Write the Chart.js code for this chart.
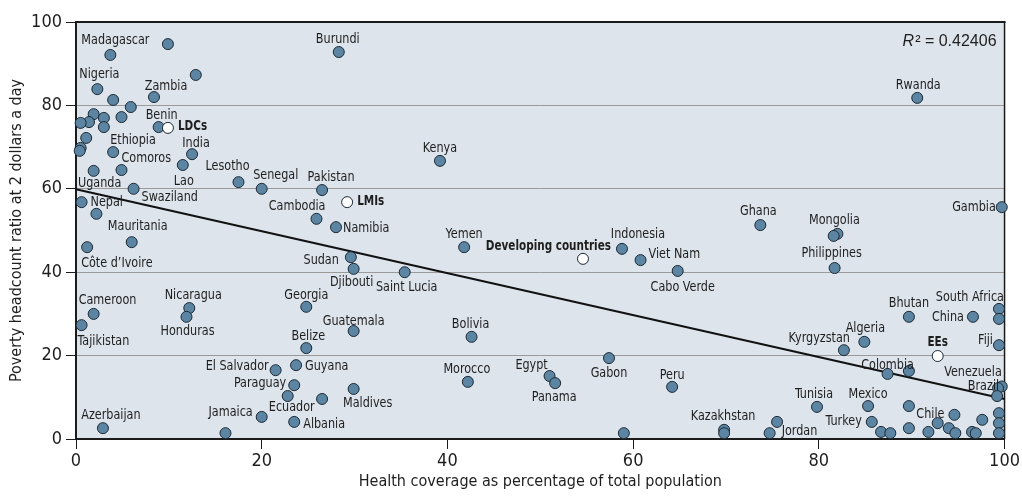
<!DOCTYPE html>
<html>
<head>
<meta charset="utf-8">
<script src="https://cdn.jsdelivr.net/npm/chart.js@4.4.0/dist/chart.umd.min.js"></script>
<style>
  html, body { margin: 0; padding: 0; background: #fff; }
</style>
</head>
<body>
<canvas id="graficoCobertura" width="1022" height="502"></canvas>
<script>
// datos
const paises = [
  'Madagascar', '', '', 'Nigeria', '', 'Zambia', '', '', '', '',
  '', '', '', 'Benin', '', '', '', 'Ethiopia', 'India', 'Comoros',
  'Uganda', 'Lao', 'Lesotho', 'Senegal', 'Swaziland', 'Pakistan', 'Nepal', '', 'Cambodia', 'Namibia',
  'Mauritania', 'Côte d’Ivoire', 'Burundi', 'Kenya', 'Yemen', 'Sudan', 'Djibouti', 'Saint Lucia', 'Cameroon', 'Tajikistan',
  'Nicaragua', 'Honduras', 'Georgia', 'Guatemala', 'Bolivia', 'Belize', 'El Salvador', 'Guyana', 'Paraguay', 'Ecuador',
  '', 'Maldives', 'Jamaica', 'Albania', 'Azerbaijan', '', 'Morocco', 'Egypt', 'Panama', 'Indonesia',
  'Viet Nam', 'Cabo Verde', 'Gabon', 'Peru', '', 'Kazakhstan', '', 'Ghana', '', 'Jordan',
  'Tunisia', 'Mexico', 'Turkey', 'Rwanda', 'Gambia', 'Mongolia', '', 'Philippines', 'Bhutan', 'China',
  'South Africa', '', 'Algeria', 'Kyrgyzstan', 'Fiji', 'Colombia', '', 'Venezuela', '', 'Brazil',
  '', '', '', '', '', '', 'Chile', '', '', '',
  '', '', '', '', ''
];
const cobertura = [
  3.7, 9.9, 12.9, 2.3, 4.0, 8.4, 5.9, 1.9, 1.4, 0.5,
  3.0, 4.9, 3.0, 8.9, 1.1, 0.5, 0.4, 4.0, 12.5, 4.9,
  1.9, 11.5, 17.5, 20.0, 6.2, 26.5, 0.6, 2.2, 25.9, 28.0,
  6.0, 1.2, 28.3, 39.2, 41.8, 29.6, 29.9, 35.4, 1.9, 0.6,
  12.2, 11.9, 24.8, 29.9, 42.6, 24.8, 21.5, 23.7, 23.5, 22.8,
  26.5, 29.9, 20.0, 23.5, 2.9, 16.1, 42.2, 51.0, 51.6, 58.8,
  60.8, 64.8, 57.4, 64.2, 59.0, 69.8, 69.8, 73.7, 75.5, 74.7,
  79.8, 85.3, 85.7, 90.6, 99.7, 82.0, 81.6, 81.7, 89.7, 96.6,
  99.4, 99.4, 84.9, 82.7, 99.4, 87.4, 89.7, 99.7, 99.3, 99.2,
  86.7, 87.7, 89.7, 89.7, 91.8, 92.8, 94.6, 94.0, 94.7, 96.5,
  96.9, 97.6, 99.4, 99.4, 99.4
];
const pobreza = [
  92.1, 94.7, 87.3, 83.9, 81.3, 82.0, 79.6, 77.9, 76.0, 75.8,
  77.0, 77.2, 74.8, 74.8, 72.2, 69.8, 69.1, 68.8, 68.3, 64.5,
  64.3, 65.7, 61.6, 60.0, 60.0, 59.7, 56.8, 54.0, 52.8, 50.8,
  47.2, 46.0, 92.8, 66.7, 46.0, 43.6, 40.8, 40.0, 30.0, 27.3,
  31.4, 29.3, 31.7, 25.9, 24.5, 21.8, 16.5, 17.7, 12.9, 10.3,
  9.6, 12.0, 5.3, 4.1, 2.6, 1.4, 13.7, 15.1, 13.4, 45.6,
  42.9, 40.3, 19.4, 12.5, 1.4, 2.2, 1.4, 51.3, 4.1, 1.4,
  7.7, 7.9, 4.1, 81.8, 55.6, 49.2, 48.7, 41.0, 29.3, 29.3,
  31.2, 28.8, 23.3, 21.3, 22.5, 15.6, 16.3, 12.6, 12.2, 10.3,
  1.7, 1.4, 7.9, 2.6, 1.7, 3.8, 5.8, 2.6, 1.4, 1.7,
  1.4, 4.6, 6.2, 3.8, 1.4
];
const grupos = ['LDCs', 'LMIs', 'Developing countries', 'EEs'];
const grupoCobertura = [9.9, 29.2, 54.6, 92.8];
const grupoPobreza = [74.6, 56.8, 43.2, 19.9];
const tendenciaX = [0, 100];
const tendenciaY = [59.9, 9.6];
const ticksX = [0, 20, 40, 60, 80, 100];
const ticksY = [0, 20, 40, 60, 80, 100];
const textoR2 = '0.42406';

// posicion de etiquetas: [dx, dy, alineacion]
const posEtiqueta = {
  'Madagascar': [5, -15, 'center'], 'Nigeria': [2, -15, 'center'], 'Zambia': [12, -11, 'center'],
  'Benin': [3, -12, 'center'], 'Ethiopia': [-3, -12, 'left'], 'India': [4, -11, 'center'],
  'Comoros': [0, -12, 'left'], 'Uganda': [6, 12, 'center'], 'Lao': [1, 16, 'center'],
  'Lesotho': [-11, -16, 'center'], 'Senegal': [14, -14, 'center'], 'Swaziland': [8, 8, 'left'],
  'Pakistan': [9, -13, 'center'], 'Nepal': [9, 0, 'left'], 'Cambodia': [9, -13, 'right'],
  'Namibia': [7, 1, 'left'], 'Mauritania': [6, -16, 'center'], 'Côte d’Ivoire': [-6, 16, 'left'],
  'Burundi': [-1, -13, 'center'], 'Kenya': [0, -13, 'center'], 'Yemen': [0, -13, 'center'],
  'Sudan': [-12, 3, 'right'], 'Djibouti': [-2, 13, 'center'], 'Saint Lucia': [2, 15, 'center'],
  'Cameroon': [-15, -14, 'left'], 'Tajikistan': [-4, 16, 'left'], 'Nicaragua': [4, -13, 'center'],
  'Honduras': [1, 14, 'center'], 'Georgia': [0, -12, 'center'], 'Guatemala': [0, -10, 'center'],
  'Bolivia': [-1, -13, 'center'], 'Belize': [2, -12, 'center'], 'El Salvador': [-7, -4, 'right'],
  'Guyana': [9, 1, 'left'], 'Paraguay': [-8, -2, 'right'], 'Ecuador': [4, 11, 'center'],
  'Maldives': [14, 14, 'center'], 'Jamaica': [-9, -5, 'right'], 'Albania': [9, 2, 'left'],
  'Azerbaijan': [8, -13, 'center'], 'Morocco': [-1, -13, 'center'], 'Egypt': [-18, -11, 'center'],
  'Panama': [-1, 14, 'center'], 'Indonesia': [16, -15, 'center'], 'Viet Nam': [8, -6, 'left'],
  'Cabo Verde': [5, 16, 'center'], 'Gabon': [0, 15, 'center'], 'Peru': [0, -12, 'center'],
  'Kazakhstan': [-1, -14, 'center'], 'Ghana': [-2, -14, 'center'], 'Jordan': [12, -2, 'left'],
  'Tunisia': [-3, -13, 'center'], 'Mexico': [0, -12, 'center'], 'Turkey': [-10, -1, 'right'],
  'Rwanda': [1, -13, 'center'], 'Gambia': [-6, 0, 'right'], 'Mongolia': [-3, -14, 'center'],
  'Philippines': [-3, -15, 'center'], 'Bhutan': [0, -14, 'center'], 'South Africa': [5, -12, 'right'],
  'China': [-9, 0, 'right'], 'Algeria': [1, -14, 'center'], 'Kyrgyzstan': [6, -12, 'right'],
  'Fiji': [-6, -5, 'right'], 'Colombia': [0, -9, 'center'], 'Venezuela': [0, -14, 'right'],
  'Brazil': [2, -10, 'right'], 'Chile': [-10, -1, 'right'],
  'LDCs': [10, -2, 'left'], 'LMIs': [10, -1, 'left'], 'Developing countries': [28, -13, 'right'],
  'EEs': [0, -14, 'center']
};

const fuente = '"Liberation Sans Narrow", "Arial Narrow", "DejaVu Sans Condensed", sans-serif';
const colorTexto = '#1e1e1e';
const colorBorde = '#1b1b1b';

// el texto se estrecha un poco para parecerse a la letra condensada del original
function dibujarEtiqueta(ctx, nombre, x, y, negrita) {
  const p = posEtiqueta[nombre] || [0, -13, 'center'];
  ctx.font = (negrita ? 'bold ' : '') + '14.5px ' + fuente;
  ctx.textAlign = p[2];
  ctx.textBaseline = 'middle';
  ctx.save();
  ctx.translate(x + p[0], y + p[1]);
  ctx.scale(negrita ? 0.8 : 0.86, 1);
  ctx.fillText(nombre, 0, 0);
  ctx.restore();
}

const pluginEtiquetas = {
  id: 'etiquetas',
  beforeDraw(chart) {
    const a = chart.chartArea;
    const ctx = chart.ctx;
    ctx.save();
    ctx.fillStyle = '#dde4ec';
    ctx.fillRect(a.left, a.top, a.right - a.left, a.bottom - a.top);
    ctx.restore();
  },
  beforeDatasetsDraw(chart) {
    const a = chart.chartArea;
    const ctx = chart.ctx;
    ctx.save();
    ctx.strokeStyle = colorBorde;
    ctx.lineWidth = 2;
    ctx.beginPath();
    ctx.moveTo(a.left, a.top);
    ctx.lineTo(a.right + 1, a.top);
    ctx.stroke();
    ctx.lineWidth = 1.5;
    ctx.beginPath();
    ctx.moveTo(a.right, a.top);
    ctx.lineTo(a.right, a.bottom);
    ctx.stroke();
    ctx.restore();
  },
  afterDatasetsDraw(chart) {
    const ctx = chart.ctx;
    const a = chart.chartArea;
    ctx.save();
    ctx.fillStyle = colorTexto;
    chart.getDatasetMeta(1).data.forEach((pt, i) => {
      if (paises[i]) dibujarEtiqueta(ctx, paises[i], pt.x, pt.y, false);
    });
    chart.getDatasetMeta(2).data.forEach((pt, i) => {
      dibujarEtiqueta(ctx, grupos[i], pt.x, pt.y, true);
    });

    // R2
    ctx.textBaseline = 'alphabetic';
    ctx.textAlign = 'left';
    ctx.font = '16px "Liberation Sans", sans-serif';
    const resto = '² = ' + textoR2;
    const wResto = ctx.measureText(resto).width;
    ctx.font = 'italic 16px "Liberation Sans", sans-serif';
    const wR = ctx.measureText('R').width;
    const xIni = a.right - 9 - wResto - wR;
    ctx.fillText('R', xIni, a.top + 24);
    ctx.font = '16px "Liberation Sans", sans-serif';
    ctx.fillText(resto, xIni + wR + 1, a.top + 24);
    ctx.restore();
  }
};

const ctxCobertura = document.getElementById('graficoCobertura');

let coberturaChart = new Chart(ctxCobertura, {
  type: 'scatter',
  data: {
    datasets: [{
      type: 'line',
      label: 'Tendencia',
      data: tendenciaX.map((x, i) => ({ x: x, y: tendenciaY[i] })),
      borderColor: '#111',
      borderWidth: 2,
      pointRadius: 0,
      fill: false,
      order: 3,
      clip: false
    }, {
      label: 'Países',
      data: cobertura.map((x, i) => ({ x: x, y: pobreza[i] })),
      backgroundColor: '#5b85a2',
      borderColor: '#1d2a35',
      borderWidth: 1,
      pointRadius: 5.5,
      order: 2,
      clip: false
    }, {
      label: 'Grupos',
      data: grupoCobertura.map((x, i) => ({ x: x, y: grupoPobreza[i] })),
      backgroundColor: '#ffffff',
      borderColor: '#1d2a35',
      borderWidth: 1,
      pointRadius: 5.5,
      order: 1,
      clip: false
    }]
  },
  options: {
    responsive: false,
    animation: false,
    devicePixelRatio: 1,
    layout: { padding: { top: 22, right: 16, left: 0, bottom: 0 } },
    plugins: {
      legend: { display: false },
      tooltip: { enabled: false }
    },
    scales: {
      x: {
        type: 'linear',
        min: 0,
        max: 100,
        afterBuildTicks: s => { s.ticks = ticksX.map(v => ({ value: v })); },
        afterFit: s => { s.height = 63; },
        grid: { drawOnChartArea: false, tickLength: 10, tickColor: colorBorde, tickWidth: 1 },
        border: { color: colorBorde, width: 2 },
        ticks: { color: colorTexto, padding: 2, font: { family: fuente, size: 18 } },
        title: {
          display: true,
          text: 'Health coverage as percentage of total population',
          color: colorTexto,
          font: { family: fuente, size: 16 },
          padding: { top: 0, bottom: 11 }
        }
      },
      y: {
        type: 'linear',
        min: 0,
        max: 100,
        afterBuildTicks: s => { s.ticks = ticksY.map(v => ({ value: v })); },
        afterFit: s => { s.width = 76; },
        grid: { color: '#9a9a9a', lineWidth: 1, tickLength: 10, tickColor: colorBorde, tickWidth: 1 },
        border: { color: colorBorde, width: 2 },
        ticks: { color: colorTexto, padding: 4, font: { family: fuente, size: 18 } },
        title: {
          display: true,
          text: 'Poverty headcount ratio at 2 dollars a day',
          color: colorTexto,
          font: { family: fuente, size: 16 },
          padding: { top: 7, bottom: 0 }
        }
      }
    }
  },
  plugins: [pluginEtiquetas]
});
</script>
</body>
</html>
